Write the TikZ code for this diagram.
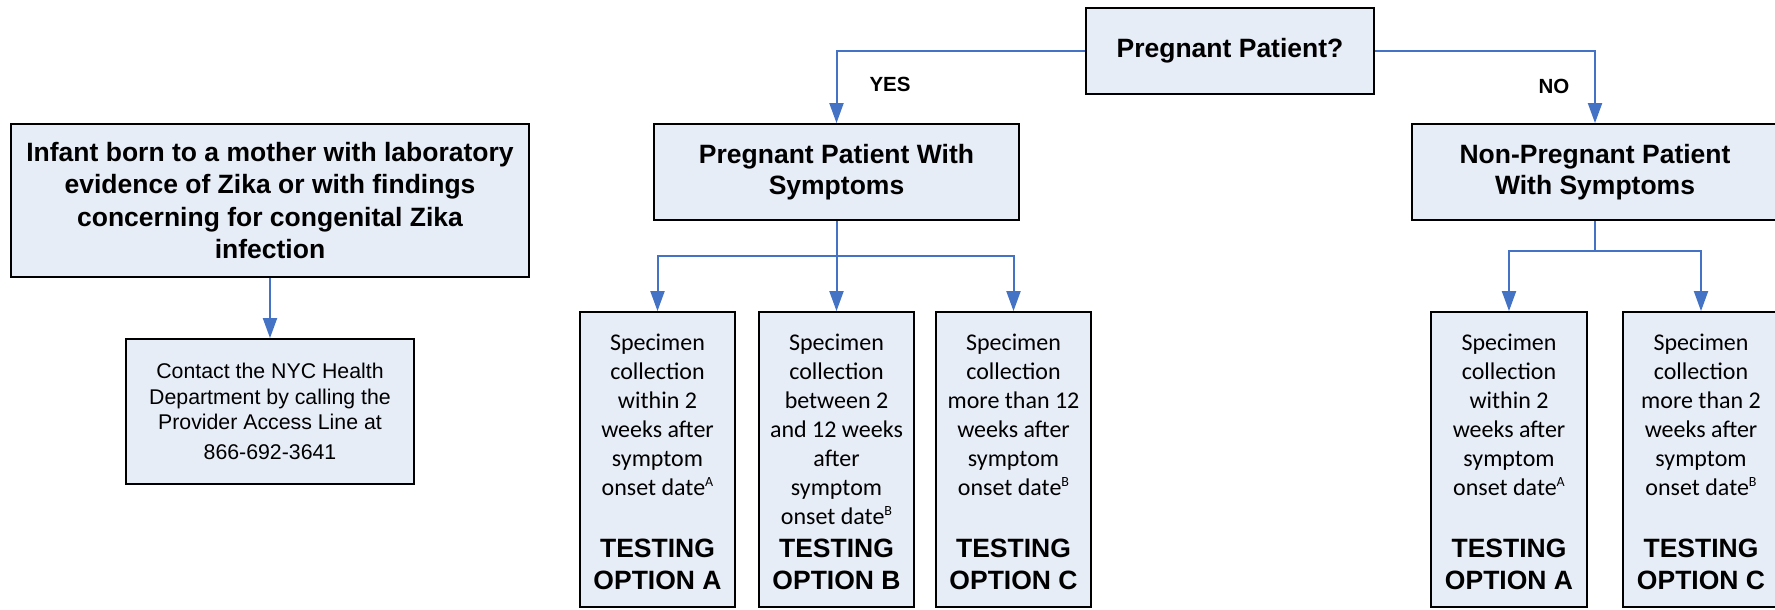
\documentclass[tikz,border=0pt]{standalone}
\usepackage{fontspec}
\setmainfont{Liberation Sans}
\newfontfamily\calibrifont{Carlito}
\usetikzlibrary{arrows.meta}
\definecolor{boxfill}{RGB}{231,237,247}
\definecolor{connblue}{RGB}{68,114,196}
\newcommand{\supmark}[1]{\raisebox{9pt}{\fontsize{14}{14}\selectfont #1}}
\begin{document}
\begin{tikzpicture}[x=1pt,y=-1pt,
  box/.style={draw=black, fill=boxfill, line width=1.8pt, inner sep=0pt, rectangle},
  head/.style={font=\bfseries\fontsize{26.5}{31.5}\selectfont, align=center},
  spec/.style={font=\calibrifont\fontsize{24}{29}\selectfont, align=center, inner sep=0pt, anchor=north},
  opt/.style={font=\bfseries\fontsize{26.5}{32}\selectfont, align=center, inner sep=0pt, anchor=north},
  conn/.style={draw=connblue, line width=2pt, -{Triangle[length=20pt,width=14pt]}},
  link/.style={draw=connblue, line width=2pt},
  lbl/.style={font=\bfseries\fontsize{20.5}{24}\selectfont, inner sep=0pt},
  tallbox/.style={box, minimum width=155pt, minimum height=295pt}]
\useasboundingbox (0,0) rectangle (1775,610);
\clip (0,0) rectangle (1775,610);

% left branch
\node[box, head, font=\bfseries\fontsize{26.5}{32.5}\selectfont, minimum width=518pt, minimum height=153pt] (infant) at (270,200.5)
  {Infant born to a mother with laboratory\\evidence of Zika or with findings\\concerning for congenital Zika\\infection};
\node[box, font=\fontsize{21.3}{25.5}\selectfont, align=center, minimum width=288pt, minimum height=145pt] (contact) at (270,411.5)
  {Contact the NYC Health\\Department by calling the\\Provider Access Line at\\[4.5pt]866-692-3641};
\draw[conn] (infant.south) -- (contact.north);

% top decision
\node[box, head, minimum width=288pt, minimum height=86pt] (pp) at (1230,51) {Pregnant Patient?};
\node[box, head, minimum width=365pt, minimum height=96pt] (ppws) at (836.5,172) {Pregnant Patient With\\Symptoms};
\node[box, head, minimum width=366pt, minimum height=96pt] (npws) at (1595,172) {Non-Pregnant Patient\\With Symptoms};
\draw[conn] (pp.west) -| (ppws.north);
\draw[conn] (pp.east) -| (npws.north);
\node[lbl] (yes) at (890,84) {YES};
\node[lbl] (no) at (1554,86) {NO};

% pregnant options
\node[tallbox] (ba) at (657.5,459.5) {};
\node[tallbox] (bb) at (836.5,459.5) {};
\node[tallbox] (bc) at (1013.5,459.5) {};
\coordinate (jp) at (836.5,256);
\draw[link] (ppws.south) -- (jp);
\draw[conn] (jp) -| (ba.north);
\draw[conn] (jp) -- (bb.north);
\draw[conn] (jp) -| (bc.north);

\node[spec] (ta) at (657.5,330) {\rule{0pt}{20pt}Specimen\\collection\\within 2\\weeks after\\symptom\\onset date\supmark{A}};
\node[spec] (tb) at (836.5,330) {\rule{0pt}{20pt}Specimen\\collection\\between 2\\and 12 weeks\\after\\symptom\\onset date\supmark{B}};
\node[spec] (tc) at (1013.5,330) {\rule{0pt}{20pt}Specimen\\collection\\more than 12\\weeks after\\symptom\\onset date\supmark{B}};
\node[opt] (oa) at (657.5,536.5) {\rule{0pt}{21pt}TESTING\\OPTION A};
\node[opt] (ob) at (836.5,536.5) {\rule{0pt}{21pt}TESTING\\OPTION B};
\node[opt] (oc) at (1013.5,536.5) {\rule{0pt}{21pt}TESTING\\OPTION C};

% non-pregnant options
\node[tallbox, minimum width=156pt] (na) at (1509,459.5) {};
\node[tallbox, minimum width=156pt] (nc) at (1701,459.5) {};
\coordinate (jn) at (1595,251);
\draw[link] (npws.south) -- (jn);
\draw[conn] (jn) -| (na.north);
\draw[conn] (jn) -| (nc.north);

\node[spec] (tna) at (1509,330) {\rule{0pt}{20pt}Specimen\\collection\\within 2\\weeks after\\symptom\\onset date\supmark{A}};
\node[spec] (tnc) at (1701,330) {\rule{0pt}{20pt}Specimen\\collection\\more than 2\\weeks after\\symptom\\onset date\supmark{B}};
\node[opt] (ona) at (1509,536.5) {\rule{0pt}{21pt}TESTING\\OPTION A};
\node[opt] (onc) at (1701,536.5) {\rule{0pt}{21pt}TESTING\\OPTION C};
\end{tikzpicture}
\end{document}
